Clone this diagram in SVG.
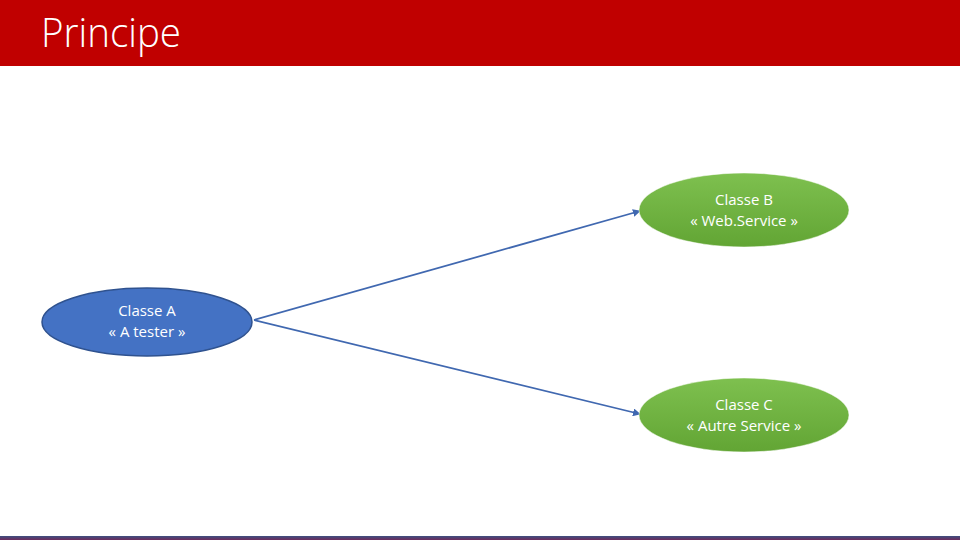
<svg xmlns="http://www.w3.org/2000/svg" width="960" height="540" viewBox="0 0 960 540">
<defs>
<linearGradient id="g" x1="0" y1="0" x2="0" y2="1">
<stop offset="0" stop-color="#7ec04f"/>
<stop offset="1" stop-color="#62a534"/>
</linearGradient>
<linearGradient id="bot" x1="0" y1="0" x2="0" y2="1">
<stop offset="0" stop-color="#3d4f80"/>
<stop offset="1" stop-color="#6e2b5c"/>
</linearGradient>
<marker id="arr" viewBox="0 0 10 10" refX="9" refY="5" markerWidth="4.5" markerHeight="4.5" orient="auto" markerUnits="strokeWidth">
<path d="M0,0 L10,5 L0,10 z" fill="#4068B0"/>
</marker>
<style>
.lbl{font-family:"Open Sans","Noto Sans","Liberation Sans",sans-serif;font-size:15px;fill:#ffffff;text-anchor:middle}
.edge{stroke:#4068B0;stroke-width:1.75;fill:none;marker-end:url(#arr)}
.green{fill:url(#g);stroke:#ffffff;stroke-width:0.5}
</style>
</defs>
<rect x="0" y="0" width="960" height="540" fill="#ffffff"/>
<rect x="0" y="0" width="960" height="66" fill="#C00000"/>
<text x="41" y="47" font-family="'Open Sans','Noto Sans','Liberation Sans',sans-serif" font-weight="300" font-size="40" fill="#ffffff" textLength="140" lengthAdjust="spacingAndGlyphs">Principe</text>
<rect x="0" y="536" width="960" height="4" fill="url(#bot)"/>
<g id="connectors">
<line class="edge" x1="254" y1="320" x2="640" y2="211"/>
<line class="edge" x1="254" y1="320" x2="640" y2="414"/>
</g>
<g id="nodeA">
<ellipse cx="147" cy="322" rx="105" ry="34" fill="#4472C4" stroke="#2F528F" stroke-width="1.5"/>
<text class="lbl" x="147" y="316">Classe A</text>
<text class="lbl" x="147" y="337">« A tester »</text>
</g>
<g id="nodeB">
<ellipse class="green" cx="744" cy="210" rx="105" ry="37"/>
<text class="lbl" x="744" y="205">Classe B</text>
<text class="lbl" x="744" y="226">« Web.Service »</text>
</g>
<g id="nodeC">
<ellipse class="green" cx="744" cy="415" rx="105" ry="37"/>
<text class="lbl" x="744" y="410">Classe C</text>
<text class="lbl" x="744" y="431">« Autre Service »</text>
</g>
</svg>
